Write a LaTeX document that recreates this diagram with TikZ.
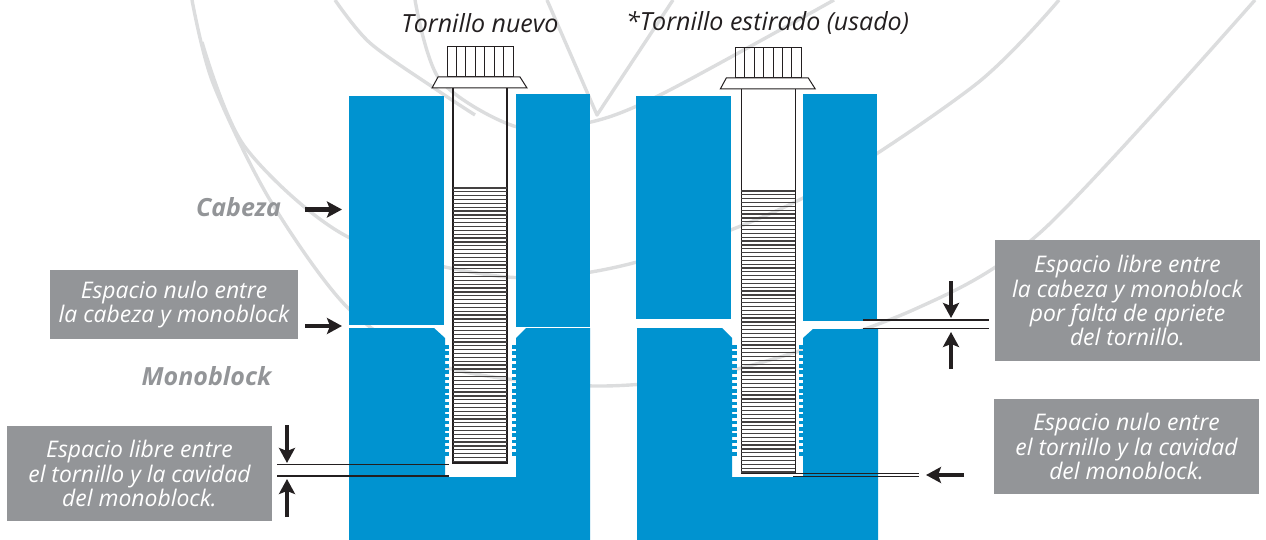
\documentclass[tikz,border=0pt]{standalone}
\usepackage{fontspec}
\setmainfont{Open Sans}
\usetikzlibrary{arrows.meta}
\definecolor{blockblue}{HTML}{0093D0}
\definecolor{boxgray}{HTML}{939598}
\definecolor{curvegray}{HTML}{DCDDDE}
\definecolor{inkblack}{HTML}{231F20}
\tikzset{
  curveline/.style={draw=curvegray, line width=3.4pt, line join=round},
  block/.style={fill=blockblue},
  teeth/.style={fill=blockblue},
  boltline/.style={draw=inkblack, line width=1pt},
  threadline/.style={draw=inkblack!85, line width=1.25pt},
  gapline/.style={draw=inkblack, line width=1.2pt},
  note/.style={fill=boxgray, text=white, align=center, inner sep=0pt, font=\fontsize{22.9}{24.3}\selectfont\itshape},
  title/.style={text=inkblack, inner sep=0pt, font=\fontsize{25}{27}\selectfont\itshape},
  partname/.style={text=boxgray, inner sep=0pt, font=\fontsize{25}{27}\selectfont\bfseries\itshape},
  pointer/.style={draw=inkblack, line width=4.6pt, -{Stealth[length=15pt,width=16pt,inset=3pt]}},
}
\begin{document}
\begin{tikzpicture}[x=1pt,y=-1pt]
\useasboundingbox (0,0) rectangle (1266,540);
% watermark
\draw[curveline] plot[smooth] coordinates {(192,0) (213,83) (270,200) (350,310) (445,367) (595,386) (733,370) (913,310) (1043,230) (1255,0)};
\draw[curveline] plot[smooth] coordinates {(202,42) (245,147) (350,238) (507,277) (637,262) (805,197) (975,85) (1059,0)};
\draw[curveline] plot[smooth] coordinates {(335,0) (370,43) (437,90) (475,115)};
\draw[curveline] plot[smooth] coordinates {(415,0) (440,80) (517,127) (591,122) (664,93) (834,0)};
\draw[curveline] (547,0) -- (597,115) -- (673,0);
% blocks of the new bolt
\fill[block] (349,96) rectangle (444,325);
\fill[block] (516,94) rectangle (590,327);
\fill[block] (349,328) -- (434,328) -- (445,338) -- (445,477) -- (516,477) -- (516,338) -- (526,328) -- (590,328) -- (590,540) -- (349,540) -- cycle;
% blocks of the stretched bolt
\fill[block] (636,96) rectangle (731,319);
\fill[block] (803,94) rectangle (877,321);
\fill[block] (637,328) -- (722,328) -- (732,338) -- (732,477) -- (803,477) -- (803,338) -- (813,329) -- (878,329) -- (878,540) -- (637,540) -- cycle;
% cavity threads
\foreach \i in {0,...,17} {
  \fill[teeth] (445,{345+\i*6.3}) rectangle ++(4,3.6);
  \fill[teeth] (512,{345+\i*6.3}) rectangle ++(4,3.6);
  \fill[teeth] (732,{345+\i*6.3}) rectangle ++(4.5,3.6);
  \fill[teeth] (799,{345+\i*6.3}) rectangle ++(4,3.6);
}
% bolts
\foreach \bx/\by/\bstart/\bend/\nthread in {480/0/188/463/71, 768.3/1/190/473/73} {
  \begin{scope}[shift={(\bx,\by)}]
    \draw[boltline] (-33,47) rectangle (33,77);
    \foreach \j in {1,...,6}
      \draw[boltline] ({-33+\j*9.43},47) -- ({-33+\j*9.43},77);
    \draw[boltline, fill=white] (-48,88) -- (-42,77) -- (40,77) -- (47,88) -- cycle;
    \draw[boltline, line width=1.2pt] (-27,88) -- (-27,{\bend-\by}) -- (27,{\bend-\by}) -- (27,88);
    \foreach \j in {0,...,\nthread}
      \draw[threadline] (-27,{\bstart+\j*3.85}) -- (27,{\bstart+\j*3.85});
  \end{scope}
}
% titles
\node[title] (titlenew) at (480,23) {Tornillo nuevo};
\node[title] (titleused) at (767.5,23) {*Tornillo estirado (usado)};
\node[partname] (cabeza) at (238.5,207) {Cabeza};
\node[partname] (monoblock) at (206.5,376) {Monoblock};
% grey boxes
\node[note, minimum width=248pt, minimum height=69pt] (nulotop) at (174,304.5) {Espacio nulo entre\\la cabeza y monoblock};
\node[note, minimum width=265pt, minimum height=95pt] (librebottom) at (139.5,473.5) {Espacio libre entre\\el tornillo y la cavidad\\del monoblock.};
\node[note, minimum width=265pt, minimum height=121pt, text depth=-3pt] (libretop) at (1127.5,300.5) {Espacio libre entre\\la cabeza y monoblock\\por falta de apriete\\del tornillo.};
\node[note, minimum width=265pt, minimum height=95pt] (nulobottom) at (1126.5,446.5) {Espacio nulo entre\\el tornillo y la cavidad\\del monoblock.};
% gap lines
\coordinate (gapa1) at (277,464.5);
\coordinate (gapa2) at (449,464.5);
\coordinate (gapb1) at (277,476);
\coordinate (gapb2) at (449,476);
\coordinate (gapc1) at (863,320);
\coordinate (gapc2) at (989,320);
\coordinate (gapd1) at (863,328.7);
\coordinate (gapd2) at (989,328.7);
\coordinate (gape1) at (793,473.7);
\coordinate (gape2) at (919,473.7);
\coordinate (gapf1) at (793,476.7);
\coordinate (gapf2) at (919,476.7);
\foreach \g in {a,b,c,d,e,f}
  \draw[gapline] (gap\g1) -- (gap\g2);
% arrows
\coordinate (cabezaarrow) at (305,209.5);
\coordinate (cabezatip) at (342,209.5);
\coordinate (nuloarrow) at (305,326);
\coordinate (nulotip) at (342,326);
\coordinate (downa) at (287,425);
\coordinate (downatip) at (287,463);
\coordinate (upa) at (287,517);
\coordinate (upatip) at (287,479);
\coordinate (downb) at (951,281);
\coordinate (downbtip) at (951,318);
\coordinate (upb) at (951,369);
\coordinate (upbtip) at (951,332);
\coordinate (leftc) at (964,475);
\coordinate (leftctip) at (926,475);
\draw[pointer] (cabezaarrow) -- (cabezatip);
\draw[pointer] (nuloarrow) -- (nulotip);
\draw[pointer] (downa) -- (downatip);
\draw[pointer] (upa) -- (upatip);
\draw[pointer] (downb) -- (downbtip);
\draw[pointer] (upb) -- (upbtip);
\draw[pointer] (leftc) -- (leftctip);
\end{tikzpicture}
\end{document}
